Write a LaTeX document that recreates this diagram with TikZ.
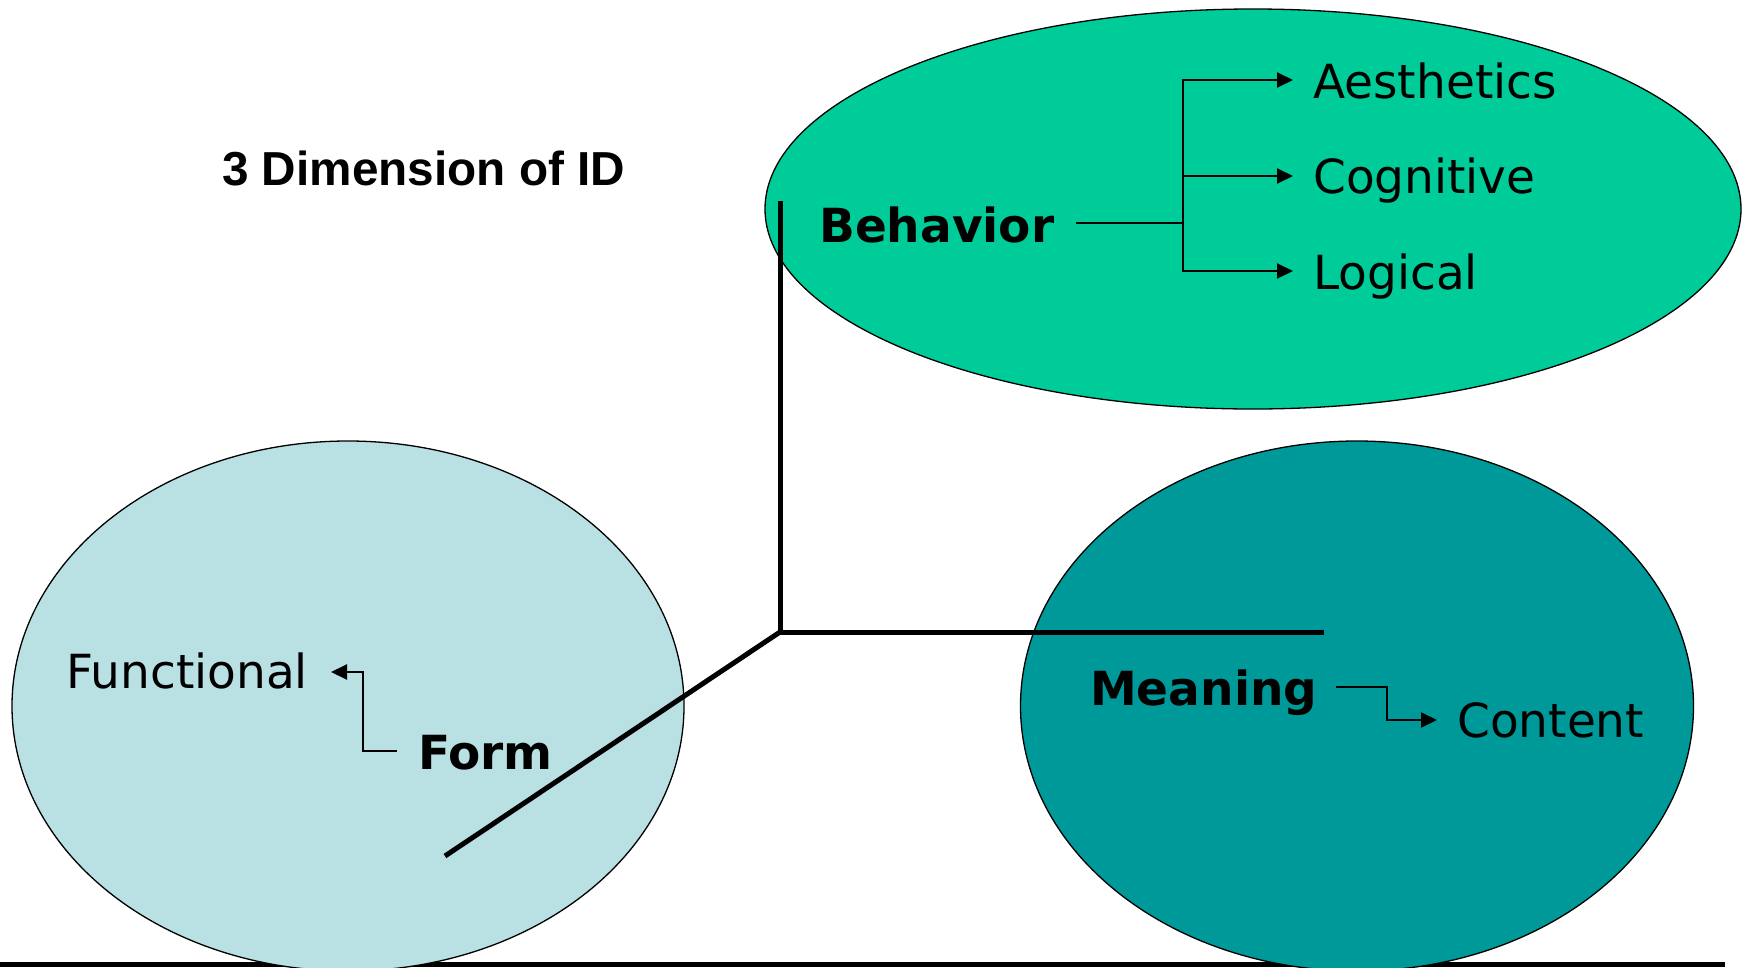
\documentclass[tikz,border=0pt]{standalone}
\usepackage{fontspec}
\setmainfont{DejaVu Sans}
\newfontfamily\arialfont{Liberation Sans}
\usetikzlibrary{shapes.geometric,arrows.meta}
\definecolor{behfill}{RGB}{0,204,153}
\definecolor{formfill}{RGB}{185,224,227}
\definecolor{meanfill}{RGB}{0,153,153}
\tikzset{
 blob/.style={ellipse, draw=black, line width=1.3pt, inner sep=0pt},
 lbl/.style={anchor=base west, inner sep=0pt, font=\fontsize{47}{56}\selectfont},
 boldlbl/.style={anchor=base west, inner sep=0pt, font=\fontsize{47}{56}\selectfont\bfseries},
 axis/.style={line width=5pt},
 link/.style={line width=2pt},
 arr/.style={link, -{Triangle[length=16pt,width=15pt]}},
}
\begin{document}
\begin{tikzpicture}[x=1pt,y=-1pt]
\useasboundingbox (0,0) rectangle (1748,967);
\clip (0,0) rectangle (1748,967);
\fill[white] (0,0) rectangle (1748,967);
% bottom rule (behind the ellipses)
\coordinate (r0) at (0,964.5);
\coordinate (r1) at (1725,964.5);
\draw[line width=5pt] (r0) -- (r1);
% ellipses
\node[blob, fill=behfill, minimum width=976pt, minimum height=400pt] (behE) at (1253,209) {};
\node[blob, fill=formfill, minimum width=672pt, minimum height=530pt] (formE) at (348,706) {};
\node[blob, fill=meanfill, minimum width=673pt, minimum height=530pt] (meanE) at (1357,706) {};
% title
\node[anchor=base west, inner sep=0pt, font=\arialfont\bfseries\fontsize{47.7}{52}\selectfont] (title) at (222,185) {3 Dimension of ID};
% axes
\coordinate (O) at (780,632);
\coordinate (ytop) at (780,201);
\coordinate (xend) at (1324,632);
\coordinate (zend) at (445,856);
\draw[axis] (ytop) -- (O) -- (xend);
\draw[axis] (O) -- (zend);
% labels
\node[boldlbl] (beh) at (819,242) {Behavior};
\node[lbl] (aes) at (1313,98) {Aesthetics};
\node[lbl] (cog) at (1313,193) {Cognitive};
\node[lbl] (log) at (1313,289) {Logical};
\node[lbl] (fun) at (66,688) {Functional};
\node[boldlbl] (form) at (418,769) {Form};
\node[boldlbl] (mean) at (1090,705) {Meaning};
\node[lbl] (cont) at (1457,737) {Content};
% behavior connectors
\coordinate (bs) at (1076,223);
\coordinate (bj) at (1183,223);
\coordinate (ba) at (1293,80);
\coordinate (bc) at (1293,176);
\coordinate (bl) at (1293,271);
\draw[link] (bs) -- (bj);
\draw[arr] (bj) |- (ba);
\draw[arr] (bj) |- (bc);
\draw[arr] (bj) |- (bl);
% form connector
\coordinate (fs) at (397,751);
\coordinate (fk) at (363,751);
\coordinate (ft) at (331,672);
\draw[arr] (fs) -- (fk) |- (ft);
% meaning connector
\coordinate (ms) at (1336,687);
\coordinate (mk) at (1387,687);
\coordinate (mt) at (1437,720);
\draw[arr] (ms) -- (mk) |- (mt);
\end{tikzpicture}
\end{document}
